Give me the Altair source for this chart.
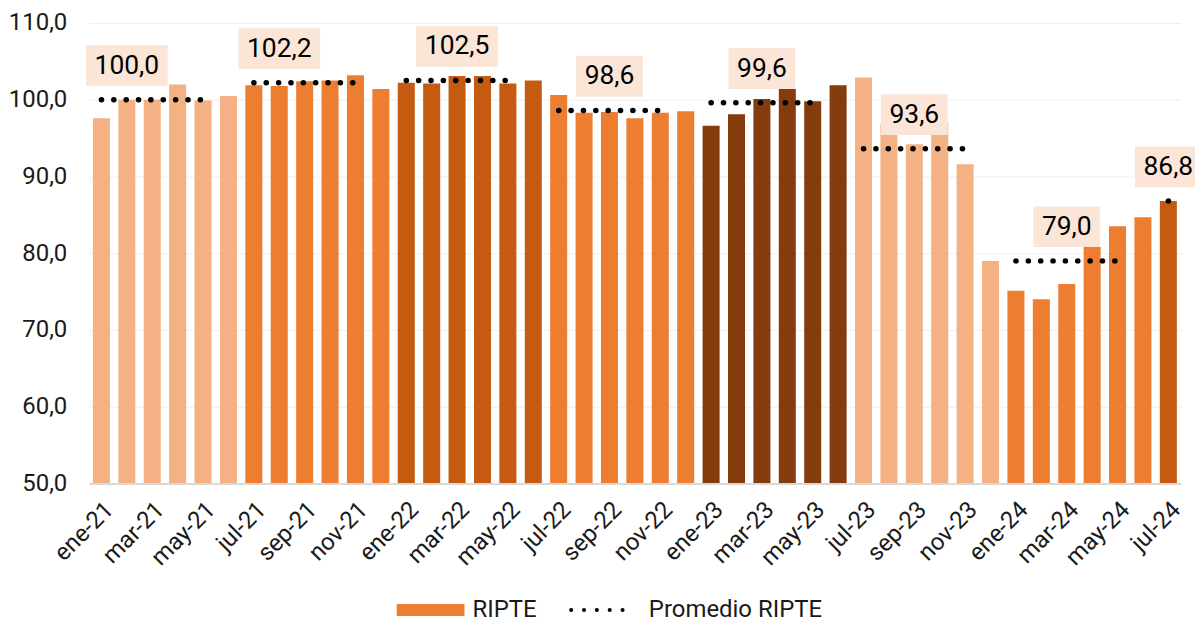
import altair as alt
import pandas as pd

month_names = ["ene", "feb", "mar", "abr", "may", "jun", "jul", "ago", "sep", "oct", "nov", "dic"]
year_codes = ["21", "22", "23", "24"]
values_2021 = [97.6, 100.0, 100.0, 102.0, 99.9, 100.5, 101.9, 101.8, 102.4, 102.5, 103.2, 101.4]
values_2022 = [102.2, 102.1, 103.1, 103.1, 102.1, 102.5, 100.6, 98.3, 98.4, 97.6, 98.3, 98.5]
values_2023 = [96.6, 98.1, 100.1, 101.4, 99.8, 101.9, 102.9, 96.8, 94.2, 97.1, 91.6, 79.0]
values_2024 = [75.1, 74.0, 76.0, 80.8, 83.5, 84.7, 86.8]

avg_values = [100.0, 102.2, 102.5, 98.6, 99.6, 93.6, 79.0, 86.8]
avg_label_month = ["feb-21", "ago-21", "mar-22", "sep-22", "mar-23", "sep-23", "mar-24", "jul-24"]
group_colors = ["#F4B183", "#ED7D31", "#C55A11", "#ED7D31", "#843C0C", "#F4B183", "#ED7D31", "#C55A11"]

months, values = [], []
for yr, vals in zip(year_codes, [values_2021, values_2022, values_2023, values_2024]):
    for i, v in enumerate(vals):
        months.append(f"{month_names[i]}-{yr}")
        values.append(v)

bars_df = pd.DataFrame({
    "month": months,
    "value": values,
    "color": [group_colors[i // 6] for i in range(len(months))],
})

n_groups = len(avg_values)
rules_df = pd.DataFrame({
    "start": [months[g * 6] for g in range(n_groups - 1)],
    "end": [months[min(g * 6 + 4, len(months) - 1)] for g in range(n_groups - 1)],
    "avg": avg_values[:-1],
})
last_rule_df = pd.DataFrame({"start": [months[-1]], "end": [months[-1]], "avg": [avg_values[-1]]})

labels = [f"{a:.1f}".replace(".", ",") for a in avg_values]
label_df = pd.DataFrame({
    "month": avg_label_month,
    "avg": avg_values,
    "label": labels,
    "lo": [a + 1.8 for a in avg_values],
    "hi": [a + 7.1 for a in avg_values],
    "ty": [a + 4.45 for a in avg_values],
    "w": [82 if len(l) == 5 else 67 for l in labels],
})

xscale = alt.Scale(domain=months, paddingInner=0.33, paddingOuter=0.165)
yscale = alt.Scale(domain=[50, 110], nice=False, zero=False)

x_enc = alt.X(
    "month:N", scale=xscale, sort=months, title=None,
    axis=alt.Axis(
        values=months[::2], labelAngle=-45, labelAlign="right", labelBaseline="top",
        labelPadding=14, ticks=False, domain=True, domainColor="#D9D9D9", domainWidth=2,
        grid=False, labelFontSize=24, labelColor="#1a1a1a", zindex=1,
    ),
)
y_enc = alt.Y(
    "value:Q", scale=yscale, title=None,
    axis=alt.Axis(
        values=[50, 60, 70, 80, 90, 100, 110],
        labelExpr="replace(format(datum.value, '.1f'), '.', ',')",
        ticks=False, domain=False, grid=True, gridColor="#EEEEEE", gridWidth=1,
        labelFontSize=24, labelColor="#1a1a1a", labelPadding=22,
    ),
)

bars = alt.Chart(bars_df).mark_bar().encode(
    x=x_enc, y=y_enc, y2=alt.datum(50), color=alt.Color("color:N", scale=None)
)

boxes = alt.Chart(label_df).mark_bar(color="#FBE5D6").encode(
    x=alt.X("month:N", scale=xscale, sort=months),
    y=alt.Y("lo:Q", scale=yscale),
    y2="hi:Q",
    size=alt.Size("w:Q", scale=None),
)

dot_style = dict(color="black", strokeWidth=5.5, strokeCap="round", strokeDash=[0.1, 12.3])
rules = alt.Chart(rules_df).mark_rule(**dot_style).encode(
    x=alt.X("start:N", scale=xscale, sort=months),
    x2="end:N",
    y=alt.Y("avg:Q", scale=yscale),
)
last_rule = alt.Chart(last_rule_df).mark_rule(x2Offset=12, **dot_style).encode(
    x=alt.X("start:N", scale=xscale, sort=months),
    x2="end:N",
    y=alt.Y("avg:Q", scale=yscale),
)

texts = alt.Chart(label_df).mark_text(fontSize=26.5, color="black", align="center", baseline="middle").encode(
    x=alt.X("month:N", scale=xscale, sort=months),
    y=alt.Y("ty:Q", scale=yscale),
    text="label:N",
)

# custom legend (layout positions in pixels)
leg_y = 589
leg_data = pd.DataFrame({"k": [1]})
leg_rect = alt.Chart(leg_data).mark_rect(color="#ED7D31").encode(
    x=alt.value(309), x2=alt.value(377), y=alt.value(leg_y - 6), y2=alt.value(leg_y + 6)
)
leg_text1 = alt.Chart(leg_data).mark_text(fontSize=24, align="left", baseline="middle", color="#1a1a1a").encode(
    x=alt.value(385), y=alt.value(leg_y), text=alt.value("RIPTE")
)
leg_rule = alt.Chart(leg_data).mark_rule(color="black", strokeWidth=4, strokeCap="round", strokeDash=[0.1, 12.8]).encode(
    x=alt.value(484), x2=alt.value(548), y=alt.value(leg_y)
)
leg_text2 = alt.Chart(leg_data).mark_text(fontSize=24, align="left", baseline="middle", color="#1a1a1a").encode(
    x=alt.value(562), y=alt.value(leg_y), text=alt.value("Promedio RIPTE")
)

chart = alt.layer(
    bars, boxes, rules, last_rule, texts, leg_rect, leg_text1, leg_rule, leg_text2
).properties(
    width=1096, height=462,
    autosize=alt.AutoSizeParams(type="none"),
    padding={"left": 81, "top": 14, "right": 14, "bottom": 138},
).configure(
    font="Roboto", background="white"
).configure_view(stroke=None)

chart.save("out.html", embed_options={"renderer": "svg", "actions": False})
